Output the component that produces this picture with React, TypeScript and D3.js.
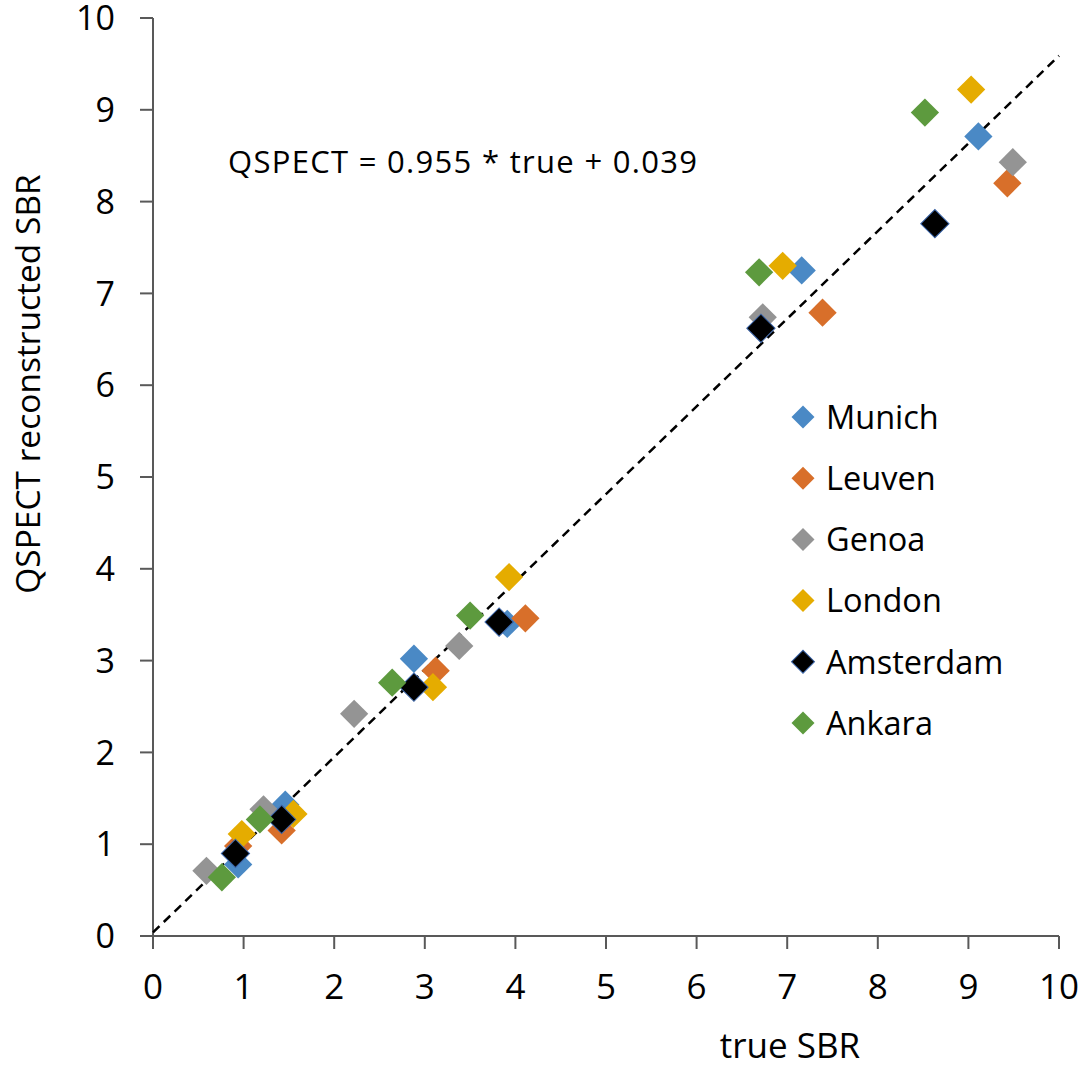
import React, { useEffect, useRef } from "react";
import * as d3 from "d3";

// true SBR (x) and QSPECT reconstructed SBR (y), per centre
const cities = ["Munich", "Leuven", "Genoa", "London", "Amsterdam", "Ankara"];
const colors = ["#4a89c5", "#d86f2a", "#949494", "#e5ac00", "#000000", "#5d9a3e"];

const munichTrue = [0.94, 1.46, 2.88, 3.91, 7.16, 9.11];
const munichQ = [0.78, 1.43, 3.02, 3.4, 7.25, 8.71];
const leuvenTrue = [0.94, 1.42, 3.12, 4.11, 7.39, 9.43];
const leuvenQ = [0.98, 1.15, 2.89, 3.46, 6.79, 8.2];
const genoaTrue = [0.59, 1.22, 2.22, 3.38, 6.73, 9.49];
const genoaQ = [0.71, 1.38, 2.42, 3.16, 6.74, 8.43];
const londonTrue = [0.98, 1.55, 3.09, 3.93, 6.95, 9.03];
const londonQ = [1.11, 1.33, 2.71, 3.91, 7.3, 9.22];
const amsterdamTrue = [0.91, 1.42, 2.88, 3.82, 6.71, 8.63];
const amsterdamQ = [0.9, 1.27, 2.71, 3.42, 6.62, 7.76];
const ankaraTrue = [0.76, 1.18, 2.64, 3.5, 6.69, 8.52];
const ankaraQ = [0.64, 1.27, 2.76, 3.49, 7.23, 8.97];

const xTicks = [0, 1, 2, 3, 4, 5, 6, 7, 8, 9, 10];
const yTicks = [0, 1, 2, 3, 4, 5, 6, 7, 8, 9, 10];

const slope = 0.955;
const intercept = 0.039;

const FONT = "'Open Sans', 'Liberation Sans', sans-serif";

export default function App() {
    const ref = useRef<SVGSVGElement>(null);

    useEffect(() => {
        const width = 1081;
        const height = 1067;
        const svg = d3.select(ref.current);
        svg.selectAll("*").remove();
        svg.attr("width", width).attr("height", height);

        const x = d3.scaleLinear().domain([0, 10]).range([153, 1059]);
        const y = d3.scaleLinear().domain([0, 10]).range([936, 18]);

        const series = [
            [munichTrue, munichQ],
            [leuvenTrue, leuvenQ],
            [genoaTrue, genoaQ],
            [londonTrue, londonQ],
            [amsterdamTrue, amsterdamQ],
            [ankaraTrue, ankaraQ],
        ];

        // axes
        const axisColor = "#595959";
        const gy = svg.append("g");
        gy.append("line")
            .attr("x1", x(0)).attr("x2", x(0))
            .attr("y1", y(0)).attr("y2", y(10))
            .attr("stroke", axisColor).attr("stroke-width", 2);
        gy.selectAll("line.tick").data(yTicks).enter().append("line")
            .attr("class", "tick")
            .attr("x1", x(0) - 13).attr("x2", x(0))
            .attr("y1", d => y(d)).attr("y2", d => y(d))
            .attr("stroke", axisColor).attr("stroke-width", 2);
        gy.selectAll("text").data(yTicks).enter().append("text")
            .attr("x", 115)
            .attr("y", d => y(d))
            .attr("dy", "0.36em")
            .attr("text-anchor", "end")
            .style("font-family", FONT)
            .style("font-size", "34px")
            .text(d => d);

        const gx = svg.append("g");
        gx.append("line")
            .attr("x1", x(0)).attr("x2", x(10))
            .attr("y1", y(0)).attr("y2", y(0))
            .attr("stroke", axisColor).attr("stroke-width", 2);
        gx.selectAll("line.tick").data(xTicks).enter().append("line")
            .attr("class", "tick")
            .attr("x1", d => x(d)).attr("x2", d => x(d))
            .attr("y1", y(0)).attr("y2", y(0) + 13)
            .attr("stroke", axisColor).attr("stroke-width", 2);
        gx.selectAll("text").data(xTicks).enter().append("text")
            .attr("x", d => x(d))
            .attr("y", 999)
            .attr("text-anchor", "middle")
            .style("font-family", FONT)
            .style("font-size", "35px")
            .text(d => d);

        // axis titles
        svg.append("text")
            .attr("x", 790).attr("y", 1058)
            .attr("text-anchor", "middle")
            .style("font-family", FONT)
            .style("font-size", "35px")
            .text("true SBR");
        svg.append("text")
            .attr("transform", "translate(40,384) rotate(-90)")
            .attr("text-anchor", "middle")
            .style("font-family", FONT)
            .style("font-size", "33.5px")
            .text("QSPECT reconstructed SBR");

        // fit line
        svg.append("line")
            .attr("x1", x(0)).attr("y1", y(intercept))
            .attr("x2", x(10)).attr("y2", y(slope * 10 + intercept))
            .attr("stroke", "#000").attr("stroke-width", 2.5)
            .attr("stroke-dasharray", "9,6");

        svg.append("text")
            .attr("x", 228).attr("y", 173)
            .attr("textLength", 469)
            .attr("lengthAdjust", "spacing")
            .style("font-family", FONT)
            .style("font-size", "31px")
            .text("QSPECT = 0.955 * true + 0.039");

        // points
        const marker = d3.symbol().type(d3.symbolSquare).size(400);
        series.forEach(([tv, qv], i) => {
            svg.append("g").selectAll("path")
                .data(tv.map((t, k) => [t, qv[k]]))
                .enter().append("path")
                .attr("d", marker)
                .attr("transform", d => `translate(${x(d[0])},${y(d[1])}) rotate(45)`)
                .attr("fill", colors[i])
                .attr("stroke", i === 4 ? "#3a64a8" : "none")
                .attr("stroke-width", 1);
        });

        // legend
        const legendMarker = d3.symbol().type(d3.symbolSquare).size(265);
        const legend = svg.append("g");
        const row = d3.scaleLinear().domain([0, 5]).range([417, 723]);
        cities.forEach((c, i) => {
            legend.append("path")
                .attr("d", legendMarker)
                .attr("transform", `translate(803,${row(i)}) rotate(45)`)
                .attr("fill", colors[i])
                .attr("stroke", i === 4 ? "#3a64a8" : "none")
                .attr("stroke-width", 1);
            legend.append("text")
                .attr("x", 826).attr("y", row(i))
                .attr("dy", "0.36em")
                .style("font-family", FONT)
                .style("font-size", "32.5px")
                .text(c);
        });
    }, []);

    return (
        <div style={{ position: "absolute", left: 0, top: 0 }}>
            <svg ref={ref} style={{ display: "block", background: "#fff" }} />
        </div>
    );
}
